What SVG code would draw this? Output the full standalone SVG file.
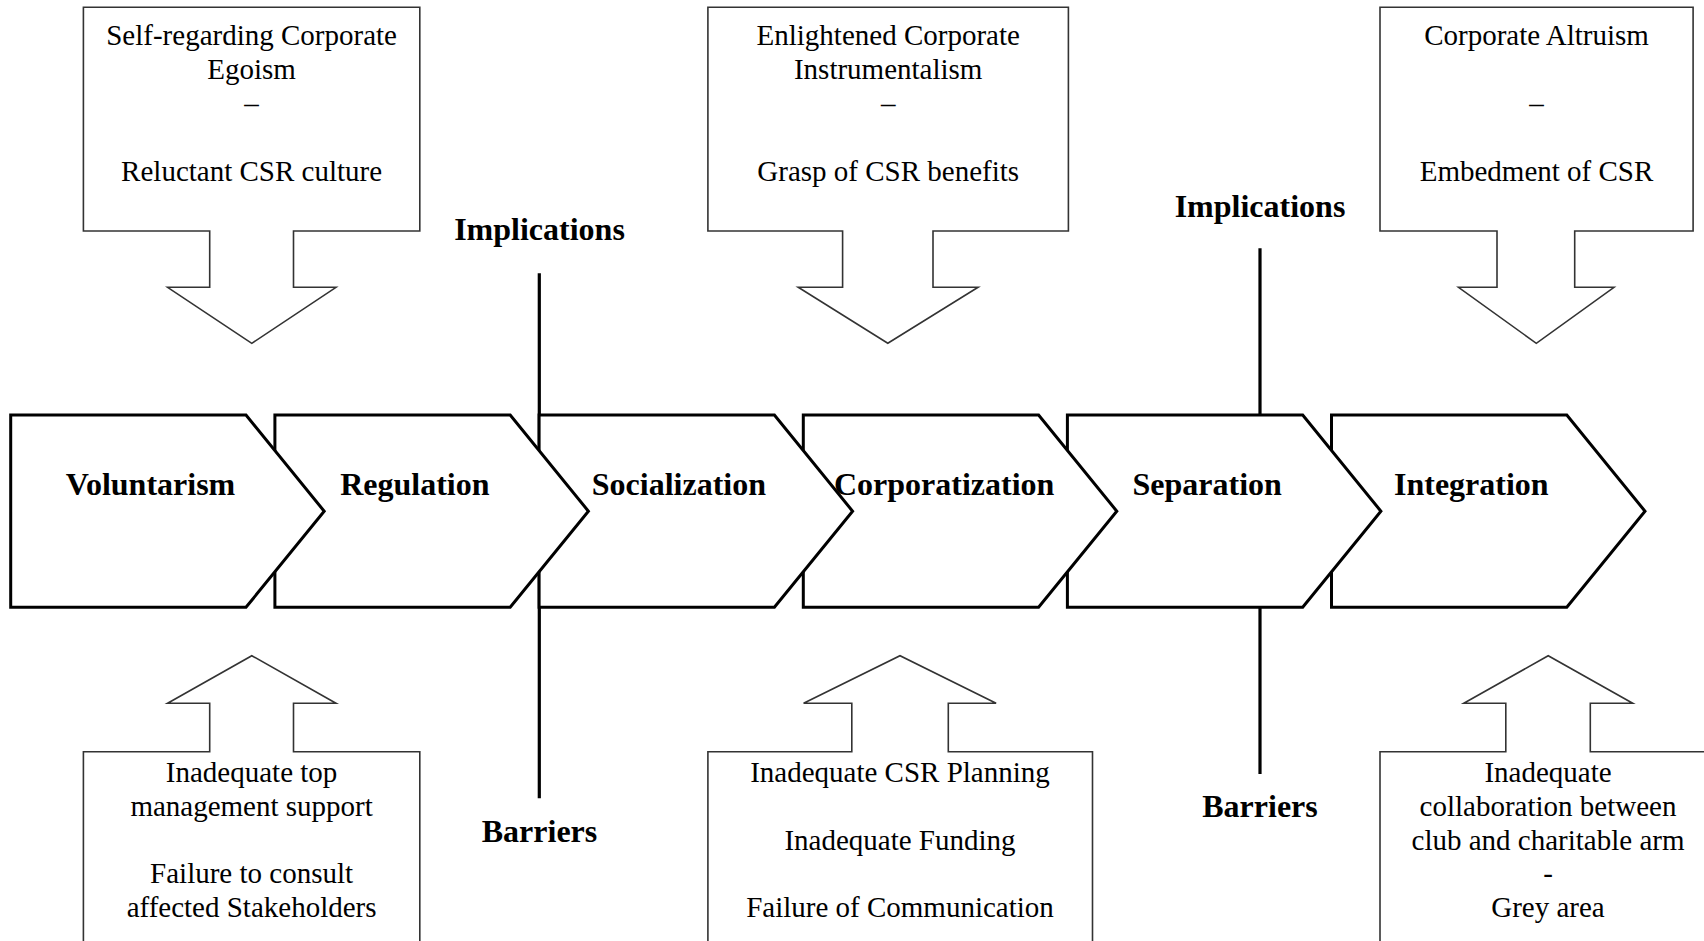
<svg xmlns="http://www.w3.org/2000/svg" width="1704" height="941" viewBox="0 0 1704 941">
<style>
.bg{fill:#fff}
.box{fill:#fff;stroke:#333;stroke-width:1.6;stroke-linejoin:miter}
.chev{fill:#fff;stroke:#000;stroke-width:3;stroke-linejoin:miter}
.axis{stroke:#000;stroke-width:3.2;fill:none}
.t{font-family:"Liberation Serif","Times New Roman",serif;font-size:29px;fill:#000;text-anchor:middle}
.lbl{font-family:"Liberation Serif","Times New Roman",serif;font-size:32px;font-weight:bold;fill:#000;text-anchor:middle}
</style>
<rect class="bg" x="0" y="0" width="1704" height="941"/>

<g id="connectors">
  <line class="axis" x1="539.3" y1="273.3" x2="539.3" y2="798.3"/>
  <line class="axis" x1="1260" y1="248.3" x2="1260" y2="774"/>
</g>

<g id="label-implications-1"><text class="lbl" x="539.5" y="240">Implications</text></g>
<g id="label-barriers-1"><text class="lbl" x="539.5" y="842">Barriers</text></g>
<g id="label-implications-2"><text class="lbl" x="1260" y="216.7">Implications</text></g>
<g id="label-barriers-2"><text class="lbl" x="1260" y="817.3">Barriers</text></g>

<g id="stage-integration">
  <path class="chev" d="M1331.5,415 H1566.8 L1645,511.2 L1566.8,607.3 H1331.5 Z"/>
  <text class="lbl" x="1471.3" y="495">Integration</text>
</g>
<g id="stage-separation">
  <path class="chev" d="M1067.4,415 H1302.7 L1380.9,511.2 L1302.7,607.3 H1067.4 Z"/>
  <text class="lbl" x="1207.2" y="495">Separation</text>
</g>
<g id="stage-corporatization">
  <path class="chev" d="M803.3,415 H1038.6 L1116.8,511.2 L1038.6,607.3 H803.3 Z"/>
  <text class="lbl" x="944.2" y="495">Corporatization</text>
</g>
<g id="stage-socialization">
  <path class="chev" d="M539.1,415 H774.4 L852.6,511.2 L774.4,607.3 H539.1 Z"/>
  <text class="lbl" x="678.9" y="495">Socialization</text>
</g>
<g id="stage-regulation">
  <path class="chev" d="M274.9,415 H510.2 L588.4,511.2 L510.2,607.3 H274.9 Z"/>
  <text class="lbl" x="414.8" y="495">Regulation</text>
</g>
<g id="stage-voluntarism">
  <path class="chev" d="M10.7,415 H246 L324.2,511.2 L246,607.3 H10.7 Z"/>
  <text class="lbl" x="150.5" y="495">Voluntarism</text>
</g>

<g id="implication-1">
  <path class="box" d="M83.4,7.3 H419.8 V231 H293.5 V287.3 H336 L251.8,343.3 L167.6,287.3 H209.7 V231 H83.4 Z"/>
  <text class="t" x="251.6" y="45">Self-regarding Corporate</text>
  <text class="t" x="251.6" y="79">Egoism</text>
  <text class="t" x="251.6" y="113">–</text>
  <text class="t" x="251.6" y="181">Reluctant CSR culture</text>
</g>
<g id="implication-2">
  <path class="box" d="M707.9,7.3 H1068.4 V231 H933 V287.3 H978.1 L887.8,343.3 L798.2,287.3 H842.6 V231 H707.9 Z"/>
  <text class="t" x="888.2" y="45">Enlightened Corporate</text>
  <text class="t" x="888.2" y="79">Instrumentalism</text>
  <text class="t" x="888.2" y="113">–</text>
  <text class="t" x="888.2" y="181">Grasp of CSR benefits</text>
</g>
<g id="implication-3">
  <path class="box" d="M1380,7.3 H1693.1 V231 H1574.7 V287.3 H1614 L1536.3,343.3 L1458.5,287.3 H1497 V231 H1380 Z"/>
  <text class="t" x="1536.5" y="45">Corporate Altruism</text>
  <text class="t" x="1536.5" y="113">–</text>
  <text class="t" x="1536.5" y="181">Embedment of CSR</text>
</g>

<g id="barrier-1">
  <path class="box" d="M83.4,960 V751.7 H209.7 V703.3 H167.6 L251.8,655.7 L336,703.3 H293.5 V751.7 H419.8 V960 Z"/>
  <text class="t" x="251.6" y="782.3">Inadequate top</text>
  <text class="t" x="251.6" y="816">management support</text>
  <text class="t" x="251.6" y="883.3">Failure to consult</text>
  <text class="t" x="251.6" y="917">affected Stakeholders</text>
</g>
<g id="barrier-2">
  <path class="box" d="M707.9,960 V751.7 H851.8 V703.3 H803.6 L900,655.7 L996.1,703.3 H948.3 V751.7 H1092.5 V960 Z"/>
  <text class="t" x="900" y="782.3">Inadequate CSR Planning</text>
  <text class="t" x="900" y="849.5">Inadequate Funding</text>
  <text class="t" x="900" y="917">Failure of Communication</text>
</g>
<g id="barrier-3">
  <path class="box" d="M1380,960 V751.7 H1505.8 V703.3 H1463.8 L1548.2,655.7 L1632.7,703.3 H1590.3 V751.7 H1716 V960 Z"/>
  <text class="t" x="1548" y="782.3">Inadequate</text>
  <text class="t" x="1548" y="816">collaboration between</text>
  <text class="t" x="1548" y="849.5">club and charitable arm</text>
  <text class="t" x="1548" y="883.3">-</text>
  <text class="t" x="1548" y="917">Grey area</text>
</g>
</svg>
